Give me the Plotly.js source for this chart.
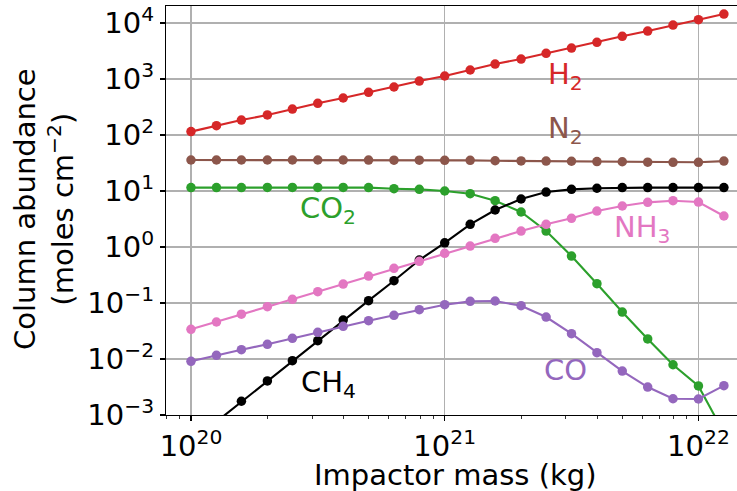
<!DOCTYPE html>
<html>
<head>
<meta charset="utf-8">
<script src="https://cdn.plot.ly/plotly-3.0.1.min.js"></script>
<style>
  html, body { margin: 0; padding: 0; background: #ffffff; }
  #chart { width: 737px; height: 491px; }
</style>
</head>
<body>
<div id="chart"></div>
<script>
// Impactor masses (kg)
const impactorMass = [
  1.00e20, 1.26e20, 1.58e20, 2.00e20, 2.51e20, 3.16e20, 3.98e20, 5.01e20, 6.31e20, 7.94e20,
  1.00e21, 1.26e21, 1.58e21, 2.00e21, 2.51e21, 3.16e21, 3.98e21, 5.01e21, 6.31e21, 7.94e21,
  1.00e22, 1.26e22
];

// Column abundances (moles cm^-2)
const H2 = [115, 147, 185, 228, 291, 368, 458, 579, 720, 921,
  1132, 1449, 1853, 2275, 2877, 3578, 4522, 5790, 7197, 9204,
  11460, 14480];
const N2 = [35.8, 35.8, 35.8, 35.8, 35.8, 35.8, 35.8, 35.7, 35.6, 35.5,
  35.4, 35.3, 34.7, 34.5, 34.2, 34.0, 33.6, 33.3, 32.8, 32.5,
  32.6, 34.2];
const CO2 = [11.5, 11.5, 11.5, 11.6, 11.6, 11.6, 11.6, 11.5, 11.0, 10.7,
  10.0, 8.95, 6.71, 4.22, 1.93, 0.69, 0.221, 0.069, 0.0228, 0.0079,
  0.0033, 0.00048];
const CH4 = [0.00033, 0.00076, 0.00176, 0.00405, 0.00933, 0.0212, 0.0497, 0.110, 0.250, 0.586,
  1.19, 2.54, 4.58, 7.20, 9.59, 10.7, 11.2, 11.5, 11.5, 11.5,
  11.5, 11.5];
const NH3 = [0.0339, 0.0458, 0.0631, 0.0859, 0.1164, 0.159, 0.218, 0.303, 0.417, 0.556,
  0.772, 1.04, 1.43, 1.93, 2.54, 3.25, 4.39, 5.40, 6.28, 6.71,
  6.36, 3.58];
const CO = [0.0091, 0.01164, 0.01466, 0.01829, 0.0234, 0.0300, 0.0384, 0.0483, 0.0603, 0.0759,
  0.0933, 0.107, 0.1086, 0.0895, 0.0562, 0.0283, 0.01295, 0.0061, 0.00316, 0.00195,
  0.00193, 0.00334];

// Tick labels
const xTickVals = [1e20, 1e21, 1e22];
const xTickText = ['10<sup>20</sup>', '10<sup>21</sup>', '10<sup>22</sup>'];
const yTickVals = [1e-3, 1e-2, 1e-1, 1e0, 1e1, 1e2, 1e3, 1e4];
const yTickText = ['10<sup>\u22123</sup>', '10<sup>\u22122</sup>', '10<sup>\u22121</sup>', '10<sup>0</sup>',
  '10<sup>1</sup>', '10<sup>2</sup>', '10<sup>3</sup>', '10<sup>4</sup>'];

// Axis titles
const xTitle = 'Impactor mass (kg)';
const yTitle = 'Column abundance<br>(moles cm<sup>\u22122</sup>)';

// Species labels
const speciesNames = ['H<sub>2</sub>', 'N<sub>2</sub>', 'CO<sub>2</sub>', 'CH<sub>4</sub>', 'NH<sub>3</sub>', 'CO'];
const speciesData = [H2, N2, CO2, CH4, NH3, CO];
const speciesColors = ['#d62728', '#8c564b', '#2ca02c', '#000000', '#e377c2', '#9467bd'];
// label positions (paper coords)
const labelPos = [[0.699, 0.829], [0.699, 0.696], [0.284, 0.501], [0.285, 0.077], [0.833, 0.455], [0.700, 0.109]];

// minor tick positions on the x axis (2..9 x 10^n)
const minorX = [];
for (let e = 19; e <= 22; e++) {
  for (let m = 2; m <= 9; m++) minorX.push(m * Math.pow(10, e));
}

const FONT = 'DejaVu Sans, sans-serif';
const FS = 29;

const traces = speciesData.map((vals, i) => ({
  x: impactorMass,
  y: vals,
  type: 'scatter',
  mode: 'lines+markers',
  name: speciesNames[i],
  line: { color: speciesColors[i], width: 2.1 },
  marker: { color: speciesColors[i], size: 9.5 },
  showlegend: false
}));

const annotations = speciesNames.map((t, i) => ({
  text: t,
  xref: 'paper', yref: 'paper',
  x: labelPos[i][0], y: labelPos[i][1],
  xanchor: 'center', yanchor: 'middle',
  showarrow: false,
  font: { family: FONT, size: FS, color: speciesColors[i] }
}));

// axis titles placed as annotations for precise positioning
annotations.push({
  text: xTitle,
  xref: 'paper', yref: 'paper',
  x: 0.507, y: -0.1465,
  xanchor: 'center', yanchor: 'middle',
  showarrow: false,
  font: { family: FONT, size: FS, color: '#000000' }
});
annotations.push({
  text: yTitle,
  xref: 'paper', yref: 'paper',
  x: -0.2125, y: 0.503,
  xanchor: 'center', yanchor: 'middle',
  textangle: -90,
  showarrow: false,
  font: { family: FONT, size: FS, color: '#000000' }
});

const layout = {
  width: 737,
  height: 491,
  margin: { l: 166, r: 0, t: 6, b: 76, pad: 0 },
  paper_bgcolor: '#ffffff',
  plot_bgcolor: '#ffffff',
  font: { family: FONT, size: FS, color: '#000000' },
  showlegend: false,
  xaxis: {
    type: 'log',
    range: [19.9015, 22.152],
    tickmode: 'array',
    tickvals: xTickVals,
    ticktext: xTickText,
    tickfont: { family: FONT, size: FS, color: '#000000' },
    ticks: 'outside', ticklen: 5, tickwidth: 1.1, tickcolor: '#000000',
    showgrid: true, gridcolor: '#b0b0b0', gridwidth: 1.1,
    showline: true, linecolor: '#000000', linewidth: 1.1, mirror: true,
    zeroline: false,
    minor: { tickmode: 'array', tickvals: minorX, ticks: 'outside', ticklen: 3, tickwidth: 0.8, tickcolor: '#000000', showgrid: false },
    title: { text: '' }
  },
  yaxis: {
    type: 'log',
    range: [-3, 4.304],
    tickmode: 'array',
    tickvals: yTickVals,
    ticktext: yTickText,
    tickfont: { family: FONT, size: FS, color: '#000000' },
    ticks: 'outside', ticklen: 5, tickwidth: 1.1, tickcolor: '#000000',
    showgrid: true, gridcolor: '#b0b0b0', gridwidth: 1.1,
    showline: true, linecolor: '#000000', linewidth: 1.1, mirror: false,
    zeroline: false,
    title: { text: '' }
  },
  annotations: annotations
};

Plotly.newPlot('chart', traces, layout, { displayModeBar: false, staticPlot: true });
</script>
</body>
</html>
